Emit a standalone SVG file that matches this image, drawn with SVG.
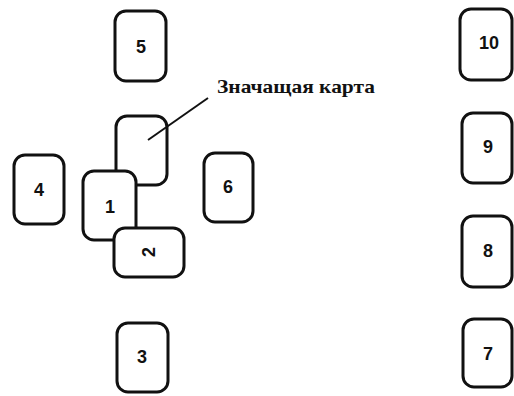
<svg xmlns="http://www.w3.org/2000/svg" width="514" height="396" viewBox="0 0 514 396">
<style>
.card{fill:#fff;stroke:#111;stroke-width:3;}
.num{font-family:"Liberation Sans",Arial,sans-serif;font-weight:bold;font-size:18px;fill:#111;text-anchor:middle;dominant-baseline:central;}
.lbl{font-family:"Liberation Serif","Times New Roman",serif;font-weight:bold;font-size:19px;fill:#111;}
.conn{stroke:#111;stroke-width:2;fill:none;}
</style>
<rect width="514" height="396" fill="#fff"/>
<g id="card5"><rect class="card" x="115" y="11" width="51" height="70" rx="11"/><text class="num" x="141" y="47">5</text></g>
<g id="card-significator"><rect class="card" x="116" y="116" width="51" height="69" rx="11"/></g>
<g id="card4"><rect class="card" x="14" y="155" width="50" height="69" rx="11"/><text class="num" x="39" y="190">4</text></g>
<g id="card6"><rect class="card" x="204" y="153" width="49" height="69" rx="11"/><text class="num" x="228" y="187">6</text></g>
<g id="card1"><rect class="card" x="83" y="171" width="53" height="69" rx="11"/><text class="num" x="110" y="207">1</text></g>
<g id="card2"><rect class="card" x="114" y="228" width="70" height="49" rx="11"/><text class="num" x="149" y="252" transform="rotate(-90 149 252)">2</text></g>
<g id="card3"><rect class="card" x="117" y="323" width="51" height="69" rx="11"/><text class="num" x="142" y="357">3</text></g>
<g id="card10"><rect class="card" x="460" y="9" width="52" height="71" rx="11"/><text class="num" x="489" y="43">10</text></g>
<g id="card9"><rect class="card" x="462" y="113" width="50" height="70" rx="11"/><text class="num" x="488" y="147">9</text></g>
<g id="card8"><rect class="card" x="462" y="216" width="50" height="71" rx="11"/><text class="num" x="488" y="251">8</text></g>
<g id="card7"><rect class="card" x="463" y="319" width="49" height="68" rx="11"/><text class="num" x="488" y="354">7</text></g>
<g id="connectors"><line class="conn" x1="148" y1="140" x2="208" y2="98"/></g>
<g id="label"><text class="lbl" x="217" y="93" textLength="158" lengthAdjust="spacingAndGlyphs">Значащая карта</text></g>
</svg>
